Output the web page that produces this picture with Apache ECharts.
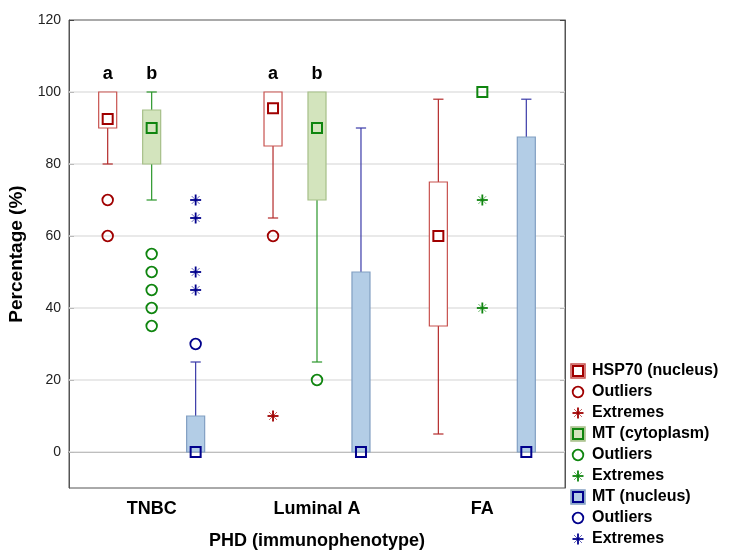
<!DOCTYPE html>
<html><head><meta charset="utf-8">
<script src="https://cdn.jsdelivr.net/npm/echarts@6/dist/echarts.min.js"></script>
<style>html,body{margin:0;padding:0;background:#fff}#c{width:733px;height:559px}</style>
</head><body><div id="c"></div>
<script>
// ---- data ----
const categories = ['TNBC', 'Luminal A', 'FA'];
const yTicks = [0, 20, 40, 60, 80, 100, 120];
// [low whisker, Q1, median, Q3, high whisker]
const hspBox = [[80, 90, 92.5, 100, 100], [65, 85, 95.5, 100, 100], [5, 35, 60, 75, 98]];
const mtcBox = [[70, 80, 90, 95, 100], [25, 70, 90, 100, 100], [100, 100, 100, 100, 100]];
const mtnBox = [[0, 0, 0, 10, 25], [0, 0, 0, 50, 90], [0, 0, 0, 87.5, 98]];
const hspOutliers = [[0, 70], [0, 60], [1, 60]];
const hspExtremes = [[1, 10]];
const mtcOutliers = [[0, 55], [0, 50], [0, 45], [0, 40], [0, 35], [1, 20]];
const mtcExtremes = [[2, 70], [2, 40]];
const mtnOutliers = [[0, 30]];
const mtnExtremes = [[0, 70], [0, 65], [0, 50], [0, 45]];
const hspLetters = ['a', 'a', ''];
const mtcLetters = ['b', 'b', ''];
const letterLevel = 105;
const legendNames = ['HSP70 (nucleus)', 'Outliers', 'Extremes', 'MT (cytoplasm)', 'Outliers', 'Extremes', 'MT (nucleus)', 'Outliers', 'Extremes'];

// ---- styles ----
const FONT = "'Liberation Sans', Arial, sans-serif";
const ST = {
  hsp: { offset: -0.266, fill: '#ffffff', boxStroke: '#c8524f', whisker: '#b42a2a', mark: '#a00000' },
  mtc: { offset: 0, fill: '#d3e4bd', boxStroke: '#a6bf88', whisker: '#2a962a', mark: '#0f850f' },
  mtn: { offset: 0.266, fill: '#b3cde6', boxStroke: '#819fc2', whisker: '#3a3aa8', mark: '#00008c' }
};

function place(api, st, cat) {
  const band = api.size([1, 0])[0];
  const cx = api.coord([cat, 0])[0] + st.offset * band;
  return { band, cx };
}

function boxRender(st) {
  return function (params, api) {
    const cat = api.value(0);
    const { band, cx } = place(api, st, cat);
    const y = v => api.coord([cat, v])[1];
    const low = api.value(1), q1 = api.value(2), med = api.value(3), q3 = api.value(4), high = api.value(5);
    const bw = band * 0.109, cap = band * 0.062;
    const ch = [];
    const ls = { stroke: st.whisker, lineWidth: 1.2 };
    if (high > q3) {
      ch.push({ type: 'line', shape: { x1: cx, y1: y(q3), x2: cx, y2: y(high) }, style: ls });
      ch.push({ type: 'line', shape: { x1: cx - cap / 2, y1: y(high), x2: cx + cap / 2, y2: y(high) }, style: ls });
    }
    if (low < q1) {
      ch.push({ type: 'line', shape: { x1: cx, y1: y(q1), x2: cx, y2: y(low) }, style: ls });
      ch.push({ type: 'line', shape: { x1: cx - cap / 2, y1: y(low), x2: cx + cap / 2, y2: y(low) }, style: ls });
    }
    if (q3 > q1) {
      ch.push({ type: 'rect', shape: { x: cx - bw / 2, y: y(q3), width: bw, height: y(q1) - y(q3) },
        style: { fill: st.fill, stroke: st.boxStroke, lineWidth: 1.2 } });
    }
    ch.push({ type: 'rect', shape: { x: cx - 5, y: y(med) - 5, width: 10, height: 10 },
      style: { fill: 'none', stroke: st.mark, lineWidth: 2 } });
    return { type: 'group', children: ch };
  };
}

function circleRender(st) {
  return function (params, api) {
    const cat = api.value(0);
    const { cx } = place(api, st, cat);
    const yy = api.coord([cat, api.value(1)])[1];
    return { type: 'circle', shape: { cx: cx, cy: yy, r: 5.3 }, style: { fill: 'none', stroke: st.mark, lineWidth: 1.8 } };
  };
}

function starShape(cx, cy, r, color) {
  const d = r * 0.72;
  return [
    { type: 'line', shape: { x1: cx - r, y1: cy, x2: cx + r, y2: cy }, style: { stroke: color, lineWidth: 1.8 } },
    { type: 'line', shape: { x1: cx, y1: cy - r, x2: cx, y2: cy + r }, style: { stroke: color, lineWidth: 1.8 } },
    { type: 'line', shape: { x1: cx - d, y1: cy - d, x2: cx + d, y2: cy + d }, style: { stroke: color, lineWidth: 1, opacity: 0.6 } },
    { type: 'line', shape: { x1: cx - d, y1: cy + d, x2: cx + d, y2: cy - d }, style: { stroke: color, lineWidth: 1, opacity: 0.6 } }
  ];
}

function starRender(st) {
  return function (params, api) {
    const cat = api.value(0);
    const { cx } = place(api, st, cat);
    const yy = api.coord([cat, api.value(1)])[1];
    return { type: 'group', children: starShape(cx, yy, 5.5, st.mark) };
  };
}

function letterRender(st, letters) {
  return function (params, api) {
    const cat = api.value(0);
    const { cx } = place(api, st, cat);
    const yy = api.coord([cat, api.value(1)])[1];
    return { type: 'text', x: cx, y: yy,
      style: { text: letters[cat], font: 'bold 18px ' + FONT, fill: '#000', align: 'center', verticalAlign: 'middle' } };
  };
}

function custom(name, data, render, dims, z) {
  return { type: 'custom', name: name, data: data, renderItem: render, z: z || 3,
    encode: { x: 0, y: dims }, clip: false, silent: true };
}

const series = [
  { type: 'line', data: [], z: 1, silent: true,
    markLine: { silent: true, symbol: 'none', label: { show: false }, z: 1,
      lineStyle: { color: '#e2e2e2', width: 1.5, type: 'solid' },
      data: yTicks.filter(v => v < 120).map(v => ({ yAxis: v })) } },
  custom('HSP70 (nucleus)', hspBox.map((d, i) => [i].concat(d)), boxRender(ST.hsp), [1, 2, 3, 4, 5]),
  custom('MT (cytoplasm)', mtcBox.map((d, i) => [i].concat(d)), boxRender(ST.mtc), [1, 2, 3, 4, 5]),
  custom('MT (nucleus)', mtnBox.map((d, i) => [i].concat(d)), boxRender(ST.mtn), [1, 2, 3, 4, 5]),
  custom('hspOut', hspOutliers, circleRender(ST.hsp), [1], 4),
  custom('mtcOut', mtcOutliers, circleRender(ST.mtc), [1], 4),
  custom('mtnOut', mtnOutliers, circleRender(ST.mtn), [1], 4),
  custom('hspExt', hspExtremes, starRender(ST.hsp), [1], 4),
  custom('mtcExt', mtcExtremes, starRender(ST.mtc), [1], 4),
  custom('mtnExt', mtnExtremes, starRender(ST.mtn), [1], 4),
  custom('hspLet', hspLetters.map((l, i) => [i, letterLevel]).filter((d, i) => hspLetters[i]), letterRender(ST.hsp, hspLetters), [1], 4),
  custom('mtcLet', mtcLetters.map((l, i) => [i, letterLevel]).filter((d, i) => mtcLetters[i]), letterRender(ST.mtc, mtcLetters), [1], 4)
];

// ---- manual legend (duplicate item names) ----
const legendIcons = [
  (cx, cy) => [
    { type: 'rect', shape: { x: cx - 7, y: cy - 7, width: 14, height: 14 }, style: { fill: '#fff', stroke: ST.hsp.boxStroke, lineWidth: 1.5 } },
    { type: 'rect', shape: { x: cx - 5, y: cy - 5, width: 10, height: 10 }, style: { fill: 'none', stroke: ST.hsp.mark, lineWidth: 2 } }],
  (cx, cy) => [{ type: 'circle', shape: { cx: cx, cy: cy, r: 5.3 }, style: { fill: 'none', stroke: ST.hsp.mark, lineWidth: 1.8 } }],
  (cx, cy) => starShape(cx, cy, 5.5, ST.hsp.mark),
  (cx, cy) => [
    { type: 'rect', shape: { x: cx - 7, y: cy - 7, width: 14, height: 14 }, style: { fill: ST.mtc.fill, stroke: ST.mtc.boxStroke, lineWidth: 1.5 } },
    { type: 'rect', shape: { x: cx - 5, y: cy - 5, width: 10, height: 10 }, style: { fill: 'none', stroke: ST.mtc.mark, lineWidth: 2 } }],
  (cx, cy) => [{ type: 'circle', shape: { cx: cx, cy: cy, r: 5.3 }, style: { fill: 'none', stroke: ST.mtc.mark, lineWidth: 1.8 } }],
  (cx, cy) => starShape(cx, cy, 5.5, ST.mtc.mark),
  (cx, cy) => [
    { type: 'rect', shape: { x: cx - 7, y: cy - 7, width: 14, height: 14 }, style: { fill: ST.mtn.fill, stroke: ST.mtn.boxStroke, lineWidth: 1.5 } },
    { type: 'rect', shape: { x: cx - 5, y: cy - 5, width: 10, height: 10 }, style: { fill: 'none', stroke: ST.mtn.mark, lineWidth: 2 } }],
  (cx, cy) => [{ type: 'circle', shape: { cx: cx, cy: cy, r: 5.3 }, style: { fill: 'none', stroke: ST.mtn.mark, lineWidth: 1.8 } }],
  (cx, cy) => starShape(cx, cy, 5.5, ST.mtn.mark)
];
const graphics = [];
legendNames.forEach((n, i) => {
  const cy = 371 + i * 21;
  legendIcons[i](578, cy).forEach(g => graphics.push(g));
  graphics.push({ type: 'text', x: 592, y: cy, style: { text: n, font: 'bold 16px ' + FONT, fill: '#000', verticalAlign: 'middle' } });
});

const chart = echarts.init(document.getElementById('c'), null, { renderer: 'canvas' });
chart.setOption({
  animation: false,
  backgroundColor: '#fff',
  grid: { left: 69, right: 168, top: 20, bottom: 71, containLabel: false, outerBoundsMode: 'none',
    show: true, borderColor: '#555', borderWidth: 1, backgroundColor: 'transparent' },
  xAxis: {
    type: 'category', data: categories, boundaryGap: true,
    axisLine: { lineStyle: { color: '#555' } },
    axisTick: { inside: true, alignWithLabel: true, length: 5, lineStyle: { color: '#444' } },
    axisLabel: { fontFamily: FONT, fontSize: 18, fontWeight: 'bold', color: '#000', margin: 12 },
    name: 'PHD (immunophenotype)', nameLocation: 'middle', nameGap: 44,
    nameTextStyle: { fontFamily: FONT, fontSize: 18, fontWeight: 'bold', color: '#000' },
    splitLine: { show: false }
  },
  yAxis: [{
    type: 'value', min: -10, max: 120,
    axisLine: { show: true, lineStyle: { color: '#555' } },
    axisTick: { show: true, inside: true, length: 5, customValues: yTicks, lineStyle: { color: '#444' } },
    axisLabel: { customValues: yTicks, fontFamily: FONT, fontSize: 14, color: '#222', margin: 8 },
    splitLine: { show: false },
    name: 'Percentage (%)', nameLocation: 'middle', nameGap: 41,
    nameTextStyle: { fontFamily: FONT, fontSize: 19, fontWeight: 'bold', color: '#000' }
  }, {
    type: 'value', min: -10, max: 120, position: 'right',
    axisLine: { show: true, lineStyle: { color: '#555' } },
    axisTick: { show: true, inside: true, length: 5, customValues: yTicks, lineStyle: { color: '#444' } },
    axisLabel: { show: false },
    splitLine: { show: false }
  }],
  series: series,
  graphic: graphics
});
</script></body></html>
